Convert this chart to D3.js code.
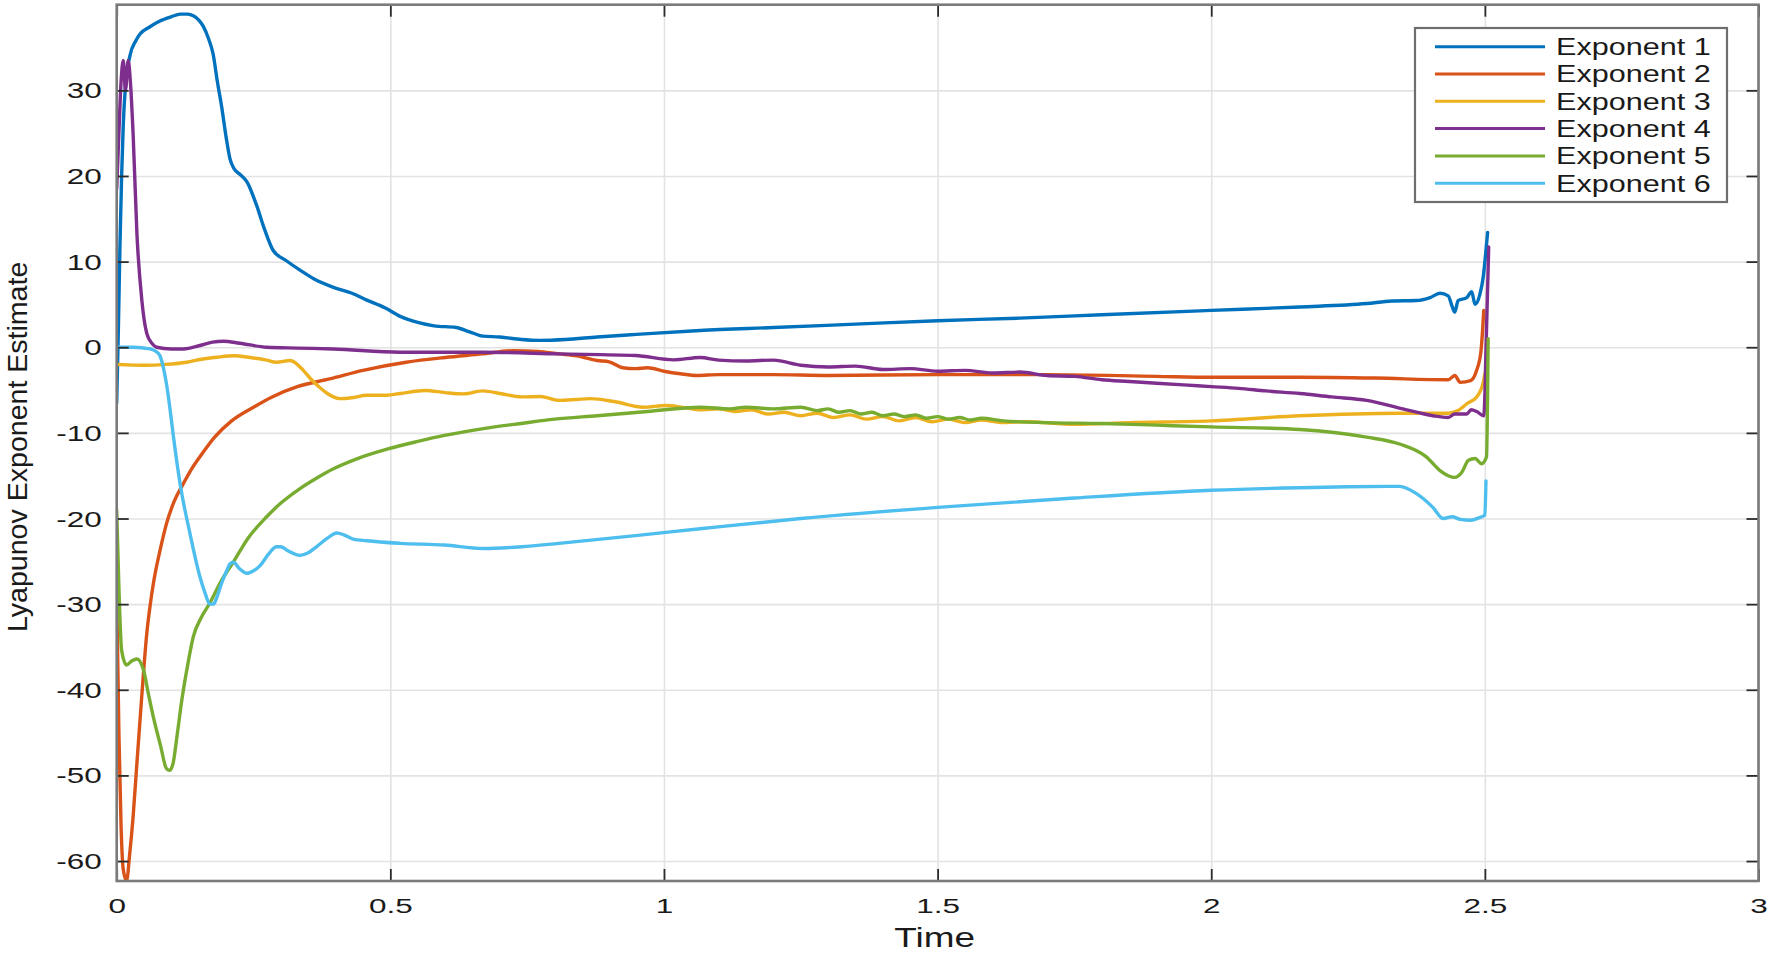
<!DOCTYPE html>
<html>
<head>
<meta charset="utf-8">
<script src="https://cdn.jsdelivr.net/npm/d3@7"></script>
<style>
  html, body { margin: 0; padding: 0; background: #ffffff; }
  svg { display: block; }
  text { font-family: "Liberation Sans", Arial, Helvetica, sans-serif; fill: #1a1a1a; }
</style>
</head>
<body>
<svg id="chart" width="1770" height="953"></svg>
<script>
// ---------------- data ----------------
const seriesNames = ["Exponent 1", "Exponent 2", "Exponent 3", "Exponent 4", "Exponent 5", "Exponent 6"];
const seriesColors = ["#0072BD", "#D95319", "#EDB120", "#7E2F8E", "#77AC30", "#4DBEEE"];
const xTicks = [0, 0.5, 1, 1.5, 2, 2.5, 3];
const xTickLabels = ["0", "0.5", "1", "1.5", "2", "2.5", "3"];
const yTicks = [-60, -50, -40, -30, -20, -10, 0, 10, 20, 30];
const yTickLabels = ["-60", "-50", "-40", "-30", "-20", "-10", "0", "10", "20", "30"];
const xLabel = "Time";
const yLabel = "Lyapunov Exponent Estimate";

const exp1 = [[0,-6.5],[0.003,2],[0.006,12],[0.009,20],[0.012,26],[0.016,30.5],[0.024,34],[0.035,35.8],[0.043,36.6],[0.06,37.4],[0.079,38.1],[0.1,38.6],[0.116,38.9],[0.13,38.9],[0.14,38.7],[0.15,38.2],[0.158,37.5],[0.168,36],[0.176,34.3],[0.184,31],[0.192,28],[0.2,24.5],[0.207,22],[0.215,20.8],[0.225,20.2],[0.238,19.3],[0.256,16.5],[0.27,13.8],[0.286,11.3],[0.31,10.1],[0.335,9],[0.36,8],[0.396,7],[0.43,6.3],[0.457,5.5],[0.49,4.6],[0.518,3.6],[0.55,2.9],[0.58,2.5],[0.62,2.3],[0.645,1.8],[0.669,1.3],[0.7,1.2],[0.74,0.9],[0.773,0.8],[0.82,0.9],[0.878,1.2],[0.95,1.5],[1.066,1.95],[1.2,2.3],[1.35,2.7],[1.5,3.1],[1.65,3.4],[1.8,3.8],[2.0,4.3],[2.162,4.7],[2.284,5.1],[2.33,5.4],[2.375,5.45],[2.4,5.8],[2.418,6.3],[2.433,6.0],[2.44,4.8],[2.445,4.1],[2.451,5.45],[2.467,5.8],[2.476,6.5],[2.482,5.0],[2.491,6.2],[2.497,8.2],[2.502,11.3],[2.505,13.4]];
const exp2 = [[0,-29],[0.004,-45],[0.008,-56],[0.012,-61],[0.018,-62.3],[0.024,-59],[0.03,-54.8],[0.037,-48.5],[0.043,-43.2],[0.049,-38],[0.055,-33.4],[0.061,-30.2],[0.067,-27.6],[0.08,-23.5],[0.091,-20.6],[0.105,-18],[0.122,-15.9],[0.137,-14.2],[0.152,-12.8],[0.179,-10.5],[0.21,-8.6],[0.25,-7],[0.284,-5.8],[0.33,-4.6],[0.389,-3.7],[0.45,-2.7],[0.529,-1.75],[0.6,-1.2],[0.669,-0.78],[0.725,-0.4],[0.77,-0.5],[0.808,-0.78],[0.84,-1.0],[0.878,-1.55],[0.9,-1.7],[0.925,-2.4],[0.948,-2.5],[0.97,-2.4],[1.0,-2.8],[1.03,-3.1],[1.06,-3.3],[1.1,-3.2],[1.2,-3.2],[1.3,-3.3],[1.5,-3.2],[1.7,-3.2],[1.9,-3.4],[2.0,-3.5],[2.162,-3.5],[2.3,-3.6],[2.433,-3.8],[2.445,-3.3],[2.455,-4.1],[2.474,-3.9],[2.485,-2.7],[2.493,-0.4],[2.498,4.3]];
const exp3 = [[0,-2.0],[0.05,-2.1],[0.09,-2.0],[0.128,-1.75],[0.155,-1.4],[0.183,-1.17],[0.215,-1.0],[0.244,-1.2],[0.274,-1.5],[0.292,-1.75],[0.317,-1.55],[0.341,-2.7],[0.356,-3.8],[0.371,-4.7],[0.385,-5.4],[0.396,-5.8],[0.408,-6.0],[0.43,-5.9],[0.457,-5.6],[0.494,-5.6],[0.518,-5.4],[0.564,-5.05],[0.6,-5.3],[0.634,-5.45],[0.669,-5.1],[0.7,-5.4],[0.739,-5.8],[0.774,-5.75],[0.808,-6.2],[0.84,-6.1],[0.865,-6.0],[0.913,-6.4],[0.962,-7.0],[1.004,-6.8],[1.032,-7.0],[1.07,-7.3],[1.1,-7.2],[1.13,-7.5],[1.16,-7.3],[1.19,-7.8],[1.22,-7.6],[1.25,-8.0],[1.28,-7.7],[1.31,-8.2],[1.34,-7.9],[1.37,-8.4],[1.4,-8.1],[1.43,-8.6],[1.46,-8.2],[1.49,-8.7],[1.52,-8.4],[1.55,-8.8],[1.58,-8.5],[1.62,-8.8],[1.66,-8.7],[1.75,-9.0],[1.85,-8.8],[2.0,-8.6],[2.162,-8.0],[2.344,-7.7],[2.433,-7.7],[2.451,-7.4],[2.467,-6.6],[2.485,-5.8],[2.497,-4.1],[2.5,-3.1]];
const exp4 = [[0,18.5],[0.004,25],[0.008,31],[0.012,33.5],[0.016,30],[0.021,33.5],[0.025,31],[0.03,24.9],[0.037,13.2],[0.046,5.45],[0.055,1.6],[0.065,0.4],[0.073,0],[0.1,-0.2],[0.122,-0.2],[0.152,0.2],[0.175,0.6],[0.195,0.7],[0.225,0.47],[0.274,0],[0.33,-0.1],[0.396,-0.2],[0.518,-0.58],[0.669,-0.58],[0.808,-0.78],[0.948,-0.97],[1.018,-1.47],[1.066,-1.2],[1.1,-1.5],[1.15,-1.6],[1.2,-1.5],[1.25,-2.1],[1.3,-2.3],[1.35,-2.2],[1.4,-2.6],[1.45,-2.5],[1.5,-2.8],[1.55,-2.7],[1.6,-3.0],[1.65,-2.9],[1.7,-3.3],[1.75,-3.4],[1.8,-3.8],[1.85,-4.0],[1.9,-4.2],[1.95,-4.4],[2.0,-4.6],[2.05,-4.8],[2.1,-5.1],[2.162,-5.4],[2.22,-5.8],[2.284,-6.2],[2.35,-7.2],[2.405,-8.0],[2.433,-8.2],[2.445,-7.8],[2.467,-7.8],[2.475,-7.3],[2.485,-7.5],[2.498,-8.0],[2.503,2],[2.507,11.7]];
const exp5 = [[0,-19],[0.004,-28],[0.009,-35.4],[0.018,-37.1],[0.028,-36.6],[0.037,-36.4],[0.049,-37.7],[0.058,-40.5],[0.067,-43.2],[0.08,-46.5],[0.091,-49.2],[0.097,-49.4],[0.103,-48.6],[0.11,-45.5],[0.119,-41.2],[0.13,-37],[0.14,-33.8],[0.155,-31.5],[0.17,-29.9],[0.19,-27.4],[0.213,-25.1],[0.24,-22.3],[0.274,-19.8],[0.3,-18.2],[0.335,-16.5],[0.365,-15.3],[0.396,-14.2],[0.44,-13],[0.494,-11.9],[0.55,-11.0],[0.599,-10.3],[0.67,-9.5],[0.739,-8.9],[0.8,-8.4],[0.878,-8.0],[0.97,-7.5],[1.066,-7.0],[1.12,-7.2],[1.15,-7.0],[1.2,-7.2],[1.25,-7.0],[1.28,-7.4],[1.3,-7.2],[1.32,-7.6],[1.34,-7.4],[1.36,-7.8],[1.38,-7.6],[1.4,-8.0],[1.42,-7.8],[1.44,-8.1],[1.46,-7.9],[1.48,-8.3],[1.5,-8.1],[1.52,-8.4],[1.54,-8.2],[1.56,-8.5],[1.58,-8.3],[1.62,-8.6],[1.7,-8.8],[1.8,-8.9],[1.9,-9.1],[2.0,-9.3],[2.162,-9.6],[2.284,-10.5],[2.344,-11.3],[2.393,-12.8],[2.418,-14.4],[2.433,-15.0],[2.445,-15.2],[2.458,-14.6],[2.47,-13.2],[2.482,-13.0],[2.494,-13.6],[2.503,-12.8],[2.506,1.0]];
const exp6 = [[0,0],[0.03,0],[0.061,-0.2],[0.072,-0.5],[0.079,-1.0],[0.085,-2.3],[0.091,-4.3],[0.097,-7],[0.103,-10.1],[0.116,-16],[0.134,-21.8],[0.152,-26.8],[0.162,-28.8],[0.17,-30.0],[0.177,-30],[0.183,-29.2],[0.192,-27.5],[0.201,-26.1],[0.207,-25.3],[0.213,-25.1],[0.225,-25.9],[0.238,-26.4],[0.25,-26.1],[0.262,-25.5],[0.277,-24.2],[0.292,-23.3],[0.3,-23.3],[0.311,-23.7],[0.335,-24.3],[0.35,-24],[0.365,-23.3],[0.385,-22.3],[0.402,-21.7],[0.415,-21.9],[0.432,-22.4],[0.457,-22.6],[0.518,-22.9],[0.599,-23.1],[0.669,-23.5],[0.74,-23.3],[0.808,-22.9],[0.948,-22],[1.066,-21.2],[1.25,-20],[1.5,-18.7],[1.75,-17.6],[2.0,-16.7],[2.162,-16.4],[2.25,-16.3],[2.344,-16.25],[2.375,-17.1],[2.405,-18.7],[2.424,-20],[2.44,-19.8],[2.455,-20.1],[2.474,-20.2],[2.49,-19.9],[2.5,-19.6],[2.502,-15.6]];
const allSeries = [exp1, exp2, exp3, exp4, exp5, exp6];

// ---------------- layout ----------------
const L = 116.7, R = 1758.5, T = 4.7, B = 881;
const svg = d3.select("#chart");
const x = d3.scaleLinear().domain([0, 3]).range([L, R]);
const y = d3.scaleLinear().domain([-62.33, 40]).range([B, T]);

// grid
svg.append("g").attr("transform", `translate(0,${B})`)
  .call(d3.axisBottom(x).tickValues(xTicks).tickSize(-(B - T)).tickFormat(""))
  .call(g => g.select(".domain").remove())
  .call(g => g.selectAll("line").attr("stroke", "#e3e3e3").attr("stroke-width", 1.6));
svg.append("g").attr("transform", `translate(${L},0)`)
  .call(d3.axisLeft(y).tickValues(yTicks).tickSize(-(R - L)).tickFormat(""))
  .call(g => g.select(".domain").remove())
  .call(g => g.selectAll("line").attr("stroke", "#e3e3e3").attr("stroke-width", 1.6));

// lines
svg.append("clipPath").attr("id", "clip").append("rect")
  .attr("x", L).attr("y", T).attr("width", R - L).attr("height", B - T);
const line = d3.line().curve(d3.curveMonotoneX).x(d => x(d[0])).y(d => y(d[1]));
const lg = svg.append("g").attr("clip-path", "url(#clip)");
allSeries.forEach((s, i) => {
  lg.append("path").datum(s).attr("d", line)
    .attr("fill", "none").attr("stroke", seriesColors[i])
    .attr("stroke-width", 3.4).attr("stroke-linejoin", "round").attr("stroke-linecap", "round");
});

// axes (ticks inward, box)
const tickLen = 12;
const tickStyle = g => g.selectAll(".tick line").attr("stroke", "#2b2b2b").attr("stroke-width", 1.8);
svg.append("g").attr("transform", `translate(0,${B})`)
  .call(d3.axisBottom(x).tickValues(xTicks).tickSize(-tickLen).tickFormat((d, i) => xTickLabels[i]))
  .call(g => g.select(".domain").remove())
  .call(tickStyle)
  .call(g => g.selectAll(".tick text")
    .attr("y", null).attr("dy", null)
    .attr("text-anchor", "middle")
    .attr("font-size", 21)
    .attr("transform", "translate(0,32) scale(1.5,1)"));
svg.append("g").attr("transform", `translate(0,${T})`)
  .call(d3.axisTop(x).tickValues(xTicks).tickSize(-tickLen).tickFormat(""))
  .call(g => g.select(".domain").remove())
  .call(tickStyle);
svg.append("g").attr("transform", `translate(${L},0)`)
  .call(d3.axisLeft(y).tickValues(yTicks).tickSize(-tickLen).tickFormat((d, i) => yTickLabels[i]))
  .call(g => g.select(".domain").remove())
  .call(tickStyle)
  .call(g => g.selectAll(".tick text")
    .attr("x", null).attr("dy", null)
    .attr("text-anchor", "end")
    .attr("font-size", 22)
    .attr("transform", "translate(-15,7.5) scale(1.43,1)"));
svg.append("g").attr("transform", `translate(${R},0)`)
  .call(d3.axisRight(y).tickValues(yTicks).tickSize(-tickLen).tickFormat(""))
  .call(g => g.select(".domain").remove())
  .call(tickStyle);

svg.append("rect").attr("x", L).attr("y", T).attr("width", R - L).attr("height", B - T)
  .attr("fill", "none").attr("stroke", "#7a7a7a").attr("stroke-width", 2.6);

// axis labels
svg.append("text").text(xLabel)
  .attr("text-anchor", "middle").attr("font-size", 28)
  .attr("transform", `translate(${(L + R) / 2 - 3},947) scale(1.32,1)`);
svg.append("text").text(yLabel)
  .attr("text-anchor", "middle").attr("font-size", 28)
  .attr("transform", `translate(27,${(T + B) / 2 + 4}) rotate(-90) scale(1.02,1)`);

// legend
const legX = 1415, legY = 28, legW = 312, legH = 174, rowH = 27.3, row0 = 46.7;
const leg = svg.append("g");
leg.append("rect").attr("x", legX).attr("y", legY).attr("width", legW).attr("height", legH)
  .attr("fill", "#ffffff").attr("stroke", "#6e6e6e").attr("stroke-width", 2.2);
seriesNames.forEach((name, i) => {
  const ry = row0 + i * rowH;
  leg.append("line").attr("x1", 1435).attr("x2", 1545).attr("y1", ry).attr("y2", ry)
    .attr("stroke", seriesColors[i]).attr("stroke-width", 3);
  leg.append("text").text(name).attr("font-size", 23)
    .attr("transform", `translate(1556,${ry + 8.3}) scale(1.33,1)`);
});
</script>
</body>
</html>
